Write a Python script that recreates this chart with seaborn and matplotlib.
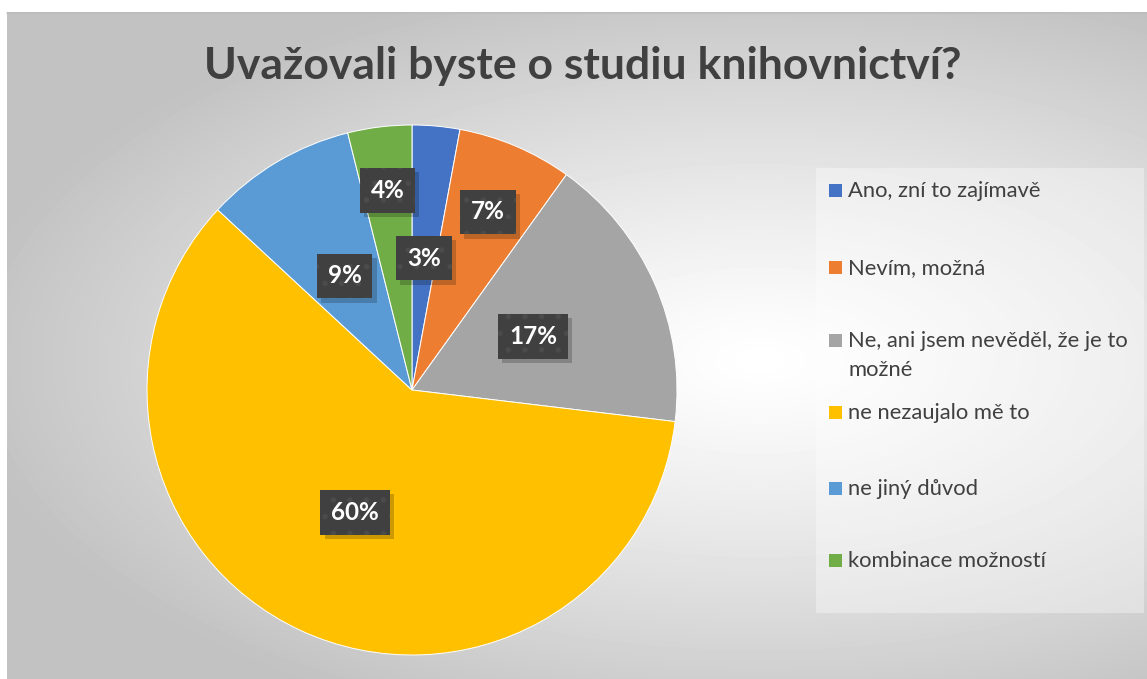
import numpy as np
import seaborn as sns
import matplotlib.pyplot as plt
from matplotlib.patches import Rectangle
from matplotlib.transforms import offset_copy

# survey answers (share of respondents, %)
answers = ['Ano, zní to zajímavě', 'Nevím, možná',
           'Ne, ani jsem nevěděl, že je to\nmožné', 'ne nezaujalo mě to',
           'ne jiný důvod', 'kombinace možností']
shares = [2.9, 7.0, 17.0, 60.0, 9.2, 3.9]
title = 'Uvažovali byste o studiu knihovnictví?'

colors = ['#4472C4', '#ED7D31', '#A5A5A5', '#FFC000', '#5B9BD5', '#70AD47']
label_r = [0.50, 0.73, 0.50, 0.51, 0.50, 0.76]

sns.set_theme(style='white')
plt.rcParams['font.family'] = ['Lato', 'DejaVu Sans']
plt.rcParams['hatch.linewidth'] = 1.5

W, H = 1147, 679
fig = plt.figure(figsize=(W / 100, H / 100), dpi=100)


def fx(px):
    return px / W


def fy(py):
    return 1 - py / H


# chart area background: soft radial gradient
bg = fig.add_axes([fx(7), 0, fx(1140), 667 / H], zorder=-10)
yy, xx = np.mgrid[12:679, 7:1147]
r = np.sqrt(((xx - 760) / 800) ** 2 + ((yy - 360) / 390) ** 2)
shade = 1 - 0.24 * np.clip(r, 0, 1) ** 1.2
bg.imshow(shade, cmap='gray', vmin=0, vmax=1, aspect='auto', interpolation='bilinear')
bg.axis('off')
fig.add_artist(plt.Line2D([fx(7), 1], [fy(12.5), fy(12.5)], color='#bdbdbd', lw=1.2))

# pie
cx, cy, rad = 412, 390, 265
ax = fig.add_axes([fx(cx - rad), fy(cy + rad), fx(2 * rad), 2 * rad / H])
wedges, _ = ax.pie(shares, colors=colors, startangle=90, counterclock=False,
                   wedgeprops=dict(edgecolor='white', linewidth=0.7))
ax.set_xlim(-1, 1)
ax.set_ylim(-1, 1)

shadow_tr = offset_copy(ax.transData, fig=fig, x=3, y=-3, units='points')
for w, v, lr in zip(wedges, shares, label_r):
    ang = np.deg2rad((w.theta1 + w.theta2) / 2)
    x, y = lr * np.cos(ang), lr * np.sin(ang)
    txt = f'{round(v)}%'
    ax.text(x, y, txt, transform=shadow_tr, ha='center', va='center', fontsize=17.5,
            weight='bold', color='none',
            bbox=dict(boxstyle='square,pad=0.45', fc='black', ec='none', alpha=0.2))
    ax.text(x, y, txt, ha='center', va='center', fontsize=17.5, weight='bold', color='white',
            bbox=dict(boxstyle='square,pad=0.45', fc='#404040', ec='#4b4b4b', lw=0, hatch='.'))

# title
fig.text(fx(583), fy(66), title, ha='center', va='center', fontsize=32,
         weight='bold', color='#404040')

# legend panel
fig.add_artist(Rectangle((fx(816), fy(613)), fx(328), (613 - 168) / H,
                         transform=fig.transFigure, fc='white', alpha=0.35, ec='none'))
row_y = [190, 267, 340, 412, 488, 560]
for lab, c, py in zip(answers, colors, row_y):
    fig.add_artist(Rectangle((fx(829), fy(py + 7)), fx(13), 13 / H,
                             transform=fig.transFigure, fc=c, ec='none'))
    for j, line in enumerate(lab.split('\n')):
        fig.text(fx(848), fy(py + 7 + 29 * j), line, ha='left', va='baseline',
                 fontsize=15.8, color='#404040')

fig.savefig('out.png', dpi=100)
